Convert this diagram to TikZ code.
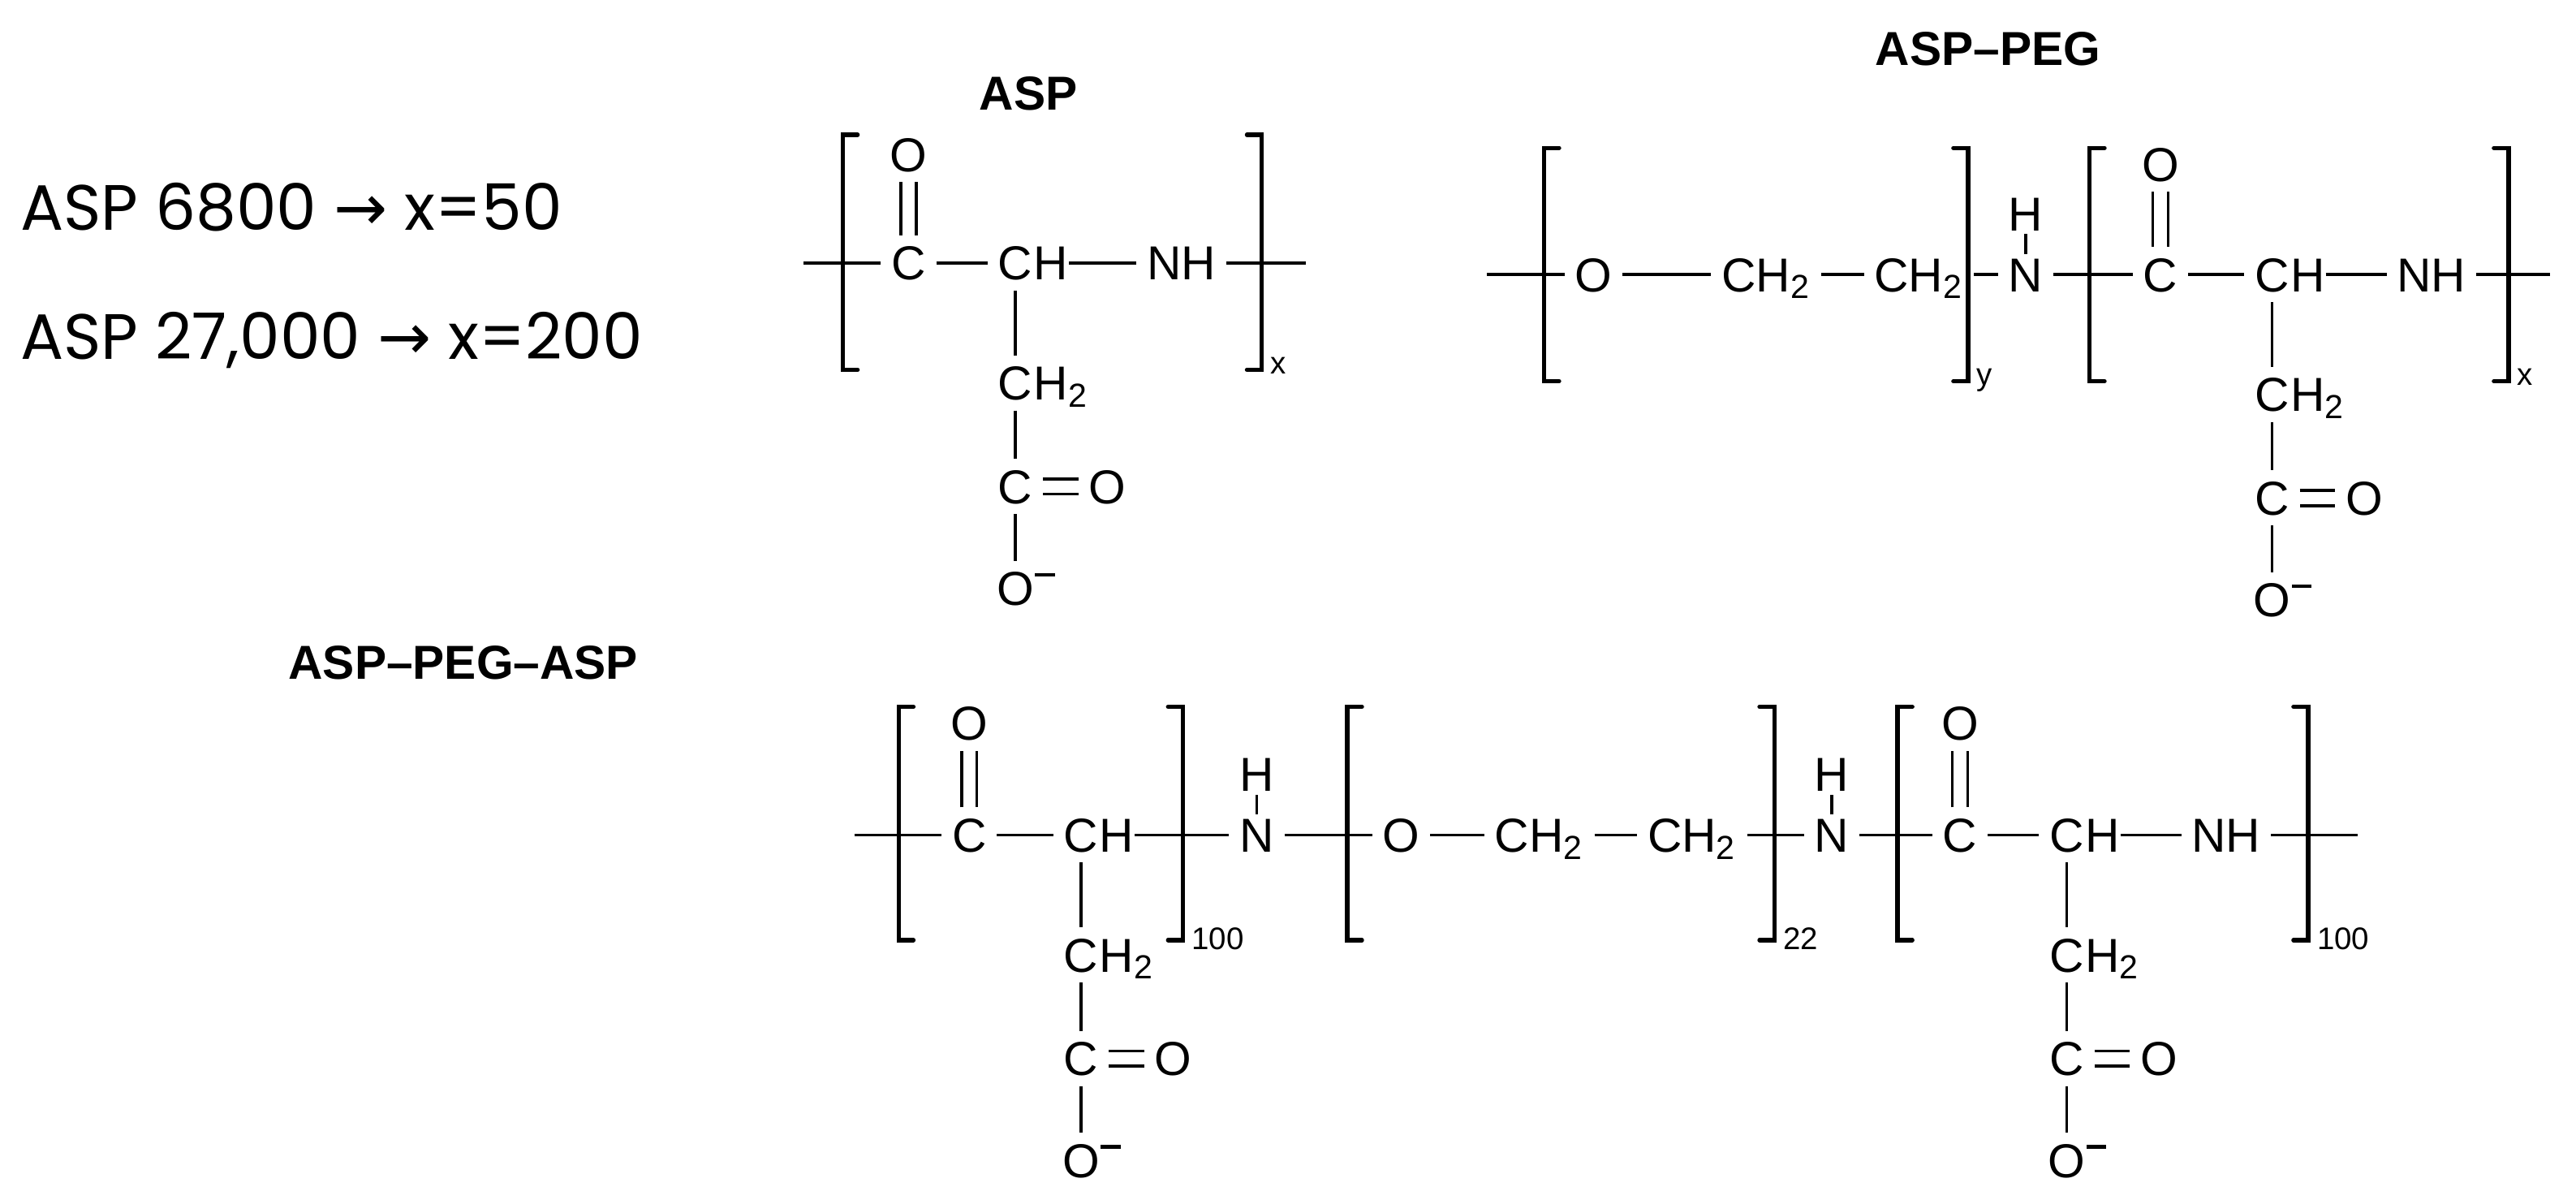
\documentclass[tikz,border=0pt]{standalone}
\usepackage{fontspec}
\setmainfont{Liberation Sans}
\newfontfamily\gothic{Poppins}
\newfontfamily\dejavu{DejaVu Sans}
\usetikzlibrary{calc}
\tikzset{
 atom/.style={font=\fontsize{14.5}{16}\selectfont, inner sep=3pt, text height=10.4pt, text depth=0pt},
 tight/.style={atom, inner ysep=0.8pt},
 hatom/.style={atom, anchor=base west, inner xsep=0pt},
 bd/.style={line width=0.85pt},
 dbl/.style={line width=0.85pt, double, double distance=3.8pt},
 br/.style={line width=1.3pt, line cap=round, line join=miter},
 sub/.style={font=\fontsize{9.5}{10}\selectfont, inner sep=0pt, anchor=north west},
 ttl/.style={font=\fontsize{14.5}{16}\selectfont\bfseries},
 note/.style={font=\fontsize{19.5}{21}\selectfont\gothic, anchor=west, inner sep=0pt}
}
\newcommand\brL[3]{\draw[br] (#1+9,#2) -- (#1,#2) -- (#1,#3) -- (#1+9,#3);}
\newcommand\brR[4]{\draw[br] (#1-9,#2) -- (#1,#2) -- (#1,#3) -- (#1-9,#3);
 \node[sub] at (#1+5,#3-8) {#4};}
\newcommand\pend[1]{%
 \node[atom] (#1a) at ($(#1)+(0,73)$) {C};
 \node[hatom] (#1aH) at ($(#1a.base east)+(-6,0)$) {H\textsubscript{2}};
 \node[atom] (#1b) at ($(#1)+(0,136)$) {C};
 \node[atom] (#1o) at ($(#1b)+(56,0)$) {O};
 \node[atom] (#1m) at ($(#1)+(0,198)$) {O};
 \node[hatom] (#1mM) at ($(#1m.base east)+(-6,0)$) {\raisebox{1.15ex}{\rule{6pt}{1pt}}};
 \draw[bd] (#1) -- (#1a);
 \draw[bd] (#1a) -- (#1b);
 \draw[bd] (#1b) -- (#1m);
 \draw[dbl] (#1b) -- (#1o);
}
\newcommand\chH[1]{\node[hatom] (#1H) at ($(#1.base east)+(-6,0)$) {H};}
\begin{document}
\begin{tikzpicture}[x=0.5pt,y=-0.5pt]
\useasboundingbox (0,0) rectangle (1568,730);
% notes
\node[note] (n1) at (12,126) {ASP 6800 {\dejavu →} x=50};
\node[note] (n2) at (12,207) {ASP 27,000 {\dejavu →} x=200};
% titles
\node[ttl] (t1) at (626,57) {ASP};
\node[ttl] (t2) at (1210,30) {ASP–PEG};
\node[ttl] (t3) at (282,403) {ASP–PEG–ASP};
%% ASP
\coordinate (s1a) at (489,160); \coordinate (s1b) at (795,160);
\node[atom] (c1) at (553,160) {C};
\node[atom] (o1) at (553,94) {O};
\node[atom] (ch1) at (618,160) {C};
\chH{ch1}
\node[atom] (nh1) at (719,160) {NH};
\draw[bd] (s1a) -- (c1); \draw[bd] (c1) -- (ch1); \draw[bd] (ch1H) -- (nh1); \draw[bd] (nh1) -- (s1b);
\draw[dbl] (c1) -- (o1);
\pend{ch1}
\brL{513}{82}{225} \brR{768}{82}{225}{x}
%% ASP-PEG
\coordinate (s2a) at (905,167); \coordinate (s2b) at (1552,167);
\node[atom] (o2) at (970,167) {O};
\node[atom] (e1) at (1075,167) {CH\textsubscript{2}};
\node[atom] (e2) at (1168,167) {CH\textsubscript{2}};
\node[tight] (n2) at (1233,167) {N};
\node[tight] (h2) at (1233,130) {H};
\node[atom] (c3) at (1315,167) {C};
\node[atom] (o3) at (1315,100) {O};
\node[atom] (ch3) at (1383,167) {C};
\chH{ch3}
\node[atom] (nh3) at (1480,167) {NH};
\draw[bd] (s2a) -- (o2); \draw[bd] (o2) -- (e1); \draw[bd] (e1) -- (e2); \draw[bd] (e2) -- (n2);
\draw[bd] (n2) -- (h2); \draw[bd] (n2) -- (c3); \draw[bd] (c3) -- (ch3); \draw[bd] (ch3H) -- (nh3);
\draw[bd] (nh3) -- (s2b); \draw[dbl] (c3) -- (o3);
\pend{ch3}
\brL{940}{90}{232} \brR{1198}{90}{232}{y}
\brL{1272}{90}{232} \brR{1527}{90}{232}{x}
%% ASP-PEG-ASP
\coordinate (s3a) at (520,508); \coordinate (s3b) at (1435,508);
\node[atom] (c4) at (590,508) {C};
\node[atom] (o4) at (590,440) {O};
\node[atom] (ch4) at (658,508) {C};
\chH{ch4}
\node[tight] (n4) at (765,508) {N};
\node[tight] (h4) at (765,471) {H};
\node[atom] (o5) at (853,508) {O};
\node[atom] (e3) at (937,508) {CH\textsubscript{2}};
\node[atom] (e4) at (1030,508) {CH\textsubscript{2}};
\node[tight] (n5) at (1115,508) {N};
\node[tight] (h5) at (1115,471) {H};
\node[atom] (c6) at (1193,508) {C};
\node[atom] (o6) at (1193,440) {O};
\node[atom] (ch6) at (1258,508) {C};
\chH{ch6}
\node[atom] (nh6) at (1355,508) {NH};
\draw[bd] (s3a) -- (c4); \draw[bd] (c4) -- (ch4); \draw[bd] (ch4H) -- (n4);
\draw[bd] (n4) -- (h4); \draw[bd] (n4) -- (o5); \draw[bd] (o5) -- (e3); \draw[bd] (e3) -- (e4);
\draw[bd] (e4) -- (n5); \draw[bd] (n5) -- (h5); \draw[bd] (n5) -- (c6); \draw[bd] (c6) -- (ch6);
\draw[bd] (ch6H) -- (nh6); \draw[bd] (nh6) -- (s3b);
\draw[dbl] (c4) -- (o4); \draw[dbl] (c6) -- (o6);
\pend{ch4}
\pend{ch6}
\brL{547}{430}{572} \brR{720}{430}{572}{100}
\brL{820}{430}{572} \brR{1080}{430}{572}{22}
\brL{1155}{430}{572} \brR{1405}{430}{572}{100}
\end{tikzpicture}
\end{document}
